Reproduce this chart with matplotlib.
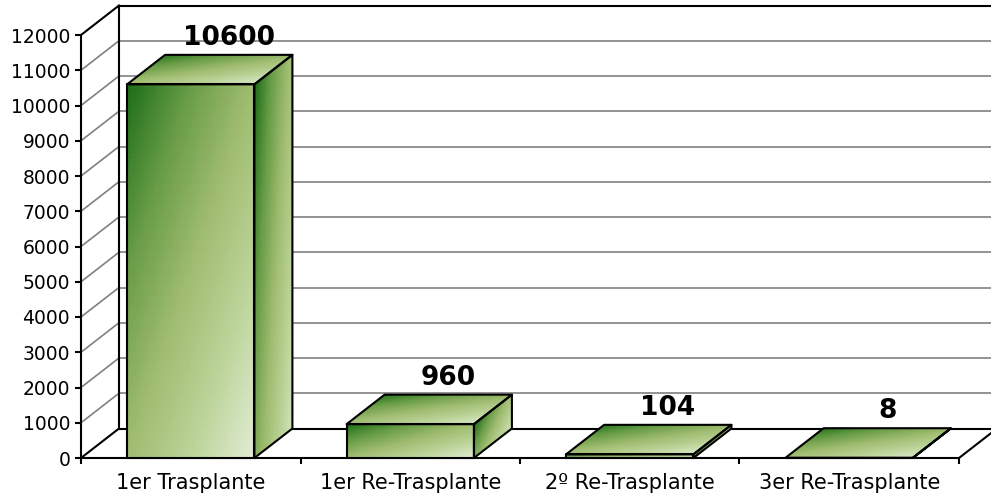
import numpy as np
import matplotlib
matplotlib.use('Agg')
import matplotlib.pyplot as plt
from matplotlib.colors import LinearSegmentedColormap
from matplotlib.patches import Polygon

# Datos
categorias = ['1er Trasplante', '1er Re-Trasplante', '2º Re-Trasplante', '3er Re-Trasplante']
valores = [10600, 960, 104, 8]
y_ticks = list(range(0, 13000, 1000))

plt.rcParams['font.family'] = ['DejaVu Sans']

W, H = 991, 499
fig = plt.figure(figsize=(W / 100, H / 100), dpi=100)
ax = fig.add_axes([81 / W, (H - 458) / H, (959 - 81) / W, (458 - 35) / H])
ax.set_xlim(0, len(categorias))
ax.set_ylim(0, 12000)

# profundidad "3D" en unidades de datos
DX = 38 / 219.5
DY = 29.5 / (423 / 12000)
ancho = 0.58

verde = LinearSegmentedColormap.from_list('verde', ['#1c6c17', '#689c46', '#a0bc70', '#bcd49a', '#e2ecd4'])

def cara(p0, e1, e2, f, n=60):
    # malla sobre un paralelogramo con gradiente t = f(u, v)
    u = np.linspace(0, 1, n + 1)
    v = np.linspace(0, 1, n + 1)
    U, V = np.meshgrid(u, v)
    X = p0[0] + U * e1[0] + V * e2[0]
    Y = p0[1] + U * e1[1] + V * e2[1]
    uc = (u[:-1] + u[1:]) / 2
    vc = (v[:-1] + v[1:]) / 2
    UC, VC = np.meshgrid(uc, vc)
    C = np.clip(f(UC, VC), 0, 1)
    m = ax.pcolormesh(X, Y, C, cmap=verde, vmin=0, vmax=1, shading='flat', zorder=3)
    m.set_clip_on(False)
    pts = [p0, (p0[0] + e1[0], p0[1] + e1[1]),
           (p0[0] + e1[0] + e2[0], p0[1] + e1[1] + e2[1]), (p0[0] + e2[0], p0[1] + e2[1])]
    ax.add_patch(Polygon(pts, closed=True, fill=False, edgecolor='black', lw=1.5,
                         joinstyle='round', zorder=4, clip_on=False))

# paredes: lineas de division
x_fin = 4.2
for yv in y_ticks:
    col = 'black' if yv in (0, 12000) else '#808080'
    lw = 1.5 if col == 'black' else 1.2
    ax.plot([DX, x_fin], [yv + DY, yv + DY], color=col, lw=lw, clip_on=False, zorder=1)
    ax.plot([0, DX], [yv, yv + DY], color=col, lw=lw, clip_on=False, zorder=1)
ax.plot([DX, DX], [DY, 12000 + DY], color='black', lw=1.5, clip_on=False, zorder=1)
ax.plot([4, 4 + DX], [0, DY], color='black', lw=1.5, clip_on=False, zorder=1)

# barras
for i, v in enumerate(valores):
    x0 = i + (1 - ancho) / 2
    # frente
    cara((x0, v), (ancho, 0), (0, -v), lambda u, w: 0.5 * u + 0.5 * w)
    # tapa
    cara((x0 + DX, v + DY), (ancho, 0), (-DX, -DY), lambda u, w: 0.05 + 0.4 * u + 0.5 * w)
    # lado
    cara((x0 + ancho, v), (DX, DY), (0, -v), lambda u, w: 0.55 * u + 0.35 * w)
    ax.text(i + 0.5 + DX, v + DY + 280, str(v), ha='center', va='baseline',
            fontsize=19, fontweight='bold', zorder=5)

# ejes
for s in ['top', 'right']:
    ax.spines[s].set_visible(False)
for s in ['left', 'bottom']:
    ax.spines[s].set_linewidth(1.5)
    ax.spines[s].set_zorder(2)
ax.set_yticks(y_ticks)
ax.set_yticklabels([str(t) for t in y_ticks])
ax.set_xticks(range(len(categorias) + 1))
ax.set_xticklabels([])
ax.set_xticks([i + 0.5 for i in range(len(categorias))], minor=True)
ax.set_xticklabels(categorias, minor=True)
ax.tick_params(axis='y', direction='out', length=4.3, width=1.5, pad=3.5, labelsize=13.5)
ax.tick_params(axis='x', which='major', direction='out', length=4.3, width=1.5)
ax.tick_params(axis='x', which='minor', length=0, pad=10.5, labelsize=15)
ax.patch.set_alpha(0)

fig.savefig('out.png', dpi=100)
